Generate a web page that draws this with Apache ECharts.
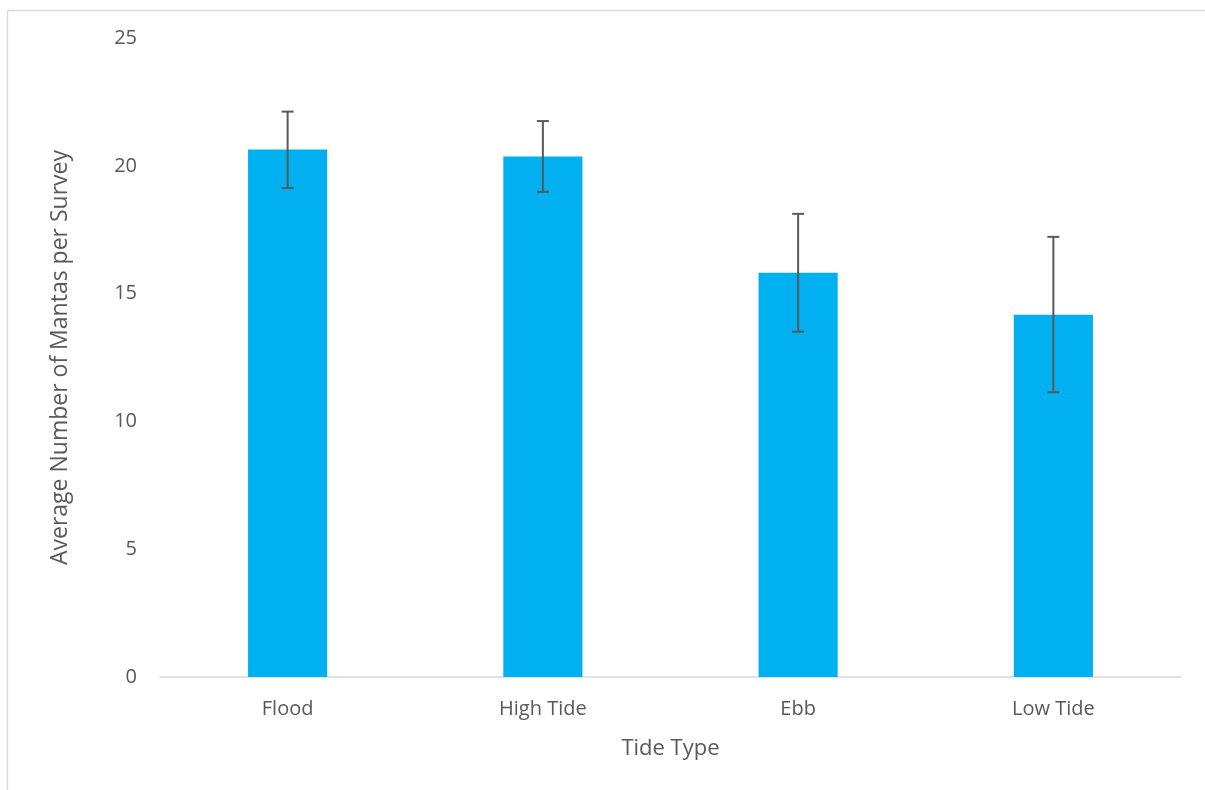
<!DOCTYPE html>
<html>
<head>
<meta charset="utf-8">
<script src="https://cdn.jsdelivr.net/npm/echarts@6/dist/echarts.min.js"></script>
<style>
html,body{margin:0;padding:0;background:#fff;}
#chart{width:1205px;height:790px;}
</style>
</head>
<body>
<div id="chart"></div>
<script>
var categories = ['Flood', 'High Tide', 'Ebb', 'Low Tide'];
var means = [20.64, 20.36, 15.82, 14.17];
var errLow = [19.13, 18.98, 13.51, 11.14];
var errHigh = [22.12, 21.75, 18.12, 17.22];
var yTicks = [0, 5, 10, 15, 20, 25];

var FONT = 'Open Sans';
var TXT = '#595959';

var chart = echarts.init(document.getElementById('chart'));
var errData = categories.map(function (c, i) { return [i, errLow[i], errHigh[i]]; });

chart.setOption({
  animation: false,
  graphic: [{
    type: 'line',
    shape: { x1: 7.5, y1: 10.5, x2: 1205, y2: 10.5 },
    style: { stroke: '#d9d9d9', lineWidth: 1.5 },
    silent: true
  }, {
    type: 'line',
    shape: { x1: 7.5, y1: 10.5, x2: 7.5, y2: 790 },
    style: { stroke: '#d9d9d9', lineWidth: 1.5 },
    silent: true
  }],
  grid: { left: 160, right: 24, top: 38, bottom: 113, containLabel: false },
  xAxis: {
    type: 'category',
    data: categories,
    axisLine: { lineStyle: { color: '#d9d9d9', width: 1.5 } },
    axisTick: { show: false },
    axisLabel: { color: TXT, fontFamily: FONT, fontSize: 20, margin: 22 },
    name: 'Tide Type',
    nameLocation: 'middle',
    nameGap: 61,
    nameTextStyle: { color: TXT, fontFamily: FONT, fontSize: 22 }
  },
  yAxis: {
    type: 'value',
    min: yTicks[0],
    max: yTicks[yTicks.length - 1],
    interval: 5,
    splitLine: { show: false },
    axisLine: { show: false },
    axisTick: { show: false },
    axisLabel: { color: TXT, fontFamily: FONT, fontSize: 20, margin: 23 },
    name: 'Average Number of Mantas per Survey',
    nameLocation: 'middle',
    nameGap: 88,
    nameTextStyle: { color: TXT, fontFamily: FONT, fontSize: 23 }
  },
  series: [{
    type: 'bar',
    data: means,
    barWidth: '31%',
    itemStyle: { color: '#00b0f0' }
  }, {
    type: 'custom',
    data: errData,
    z: 10,
    renderItem: function (params, api) {
      var x = api.value(0);
      var lo = api.coord([x, api.value(1)]);
      var hi = api.coord([x, api.value(2)]);
      var hw = 6;
      var st = { stroke: '#595959', lineWidth: 2 };
      return {
        type: 'group',
        children: [
          { type: 'line', shape: { x1: hi[0], y1: hi[1], x2: lo[0], y2: lo[1] }, style: st },
          { type: 'line', shape: { x1: hi[0] - hw, y1: hi[1], x2: hi[0] + hw, y2: hi[1] }, style: st },
          { type: 'line', shape: { x1: lo[0] - hw, y1: lo[1], x2: lo[0] + hw, y2: lo[1] }, style: st }
        ]
      };
    }
  }]
});
</script>
</body>
</html>
